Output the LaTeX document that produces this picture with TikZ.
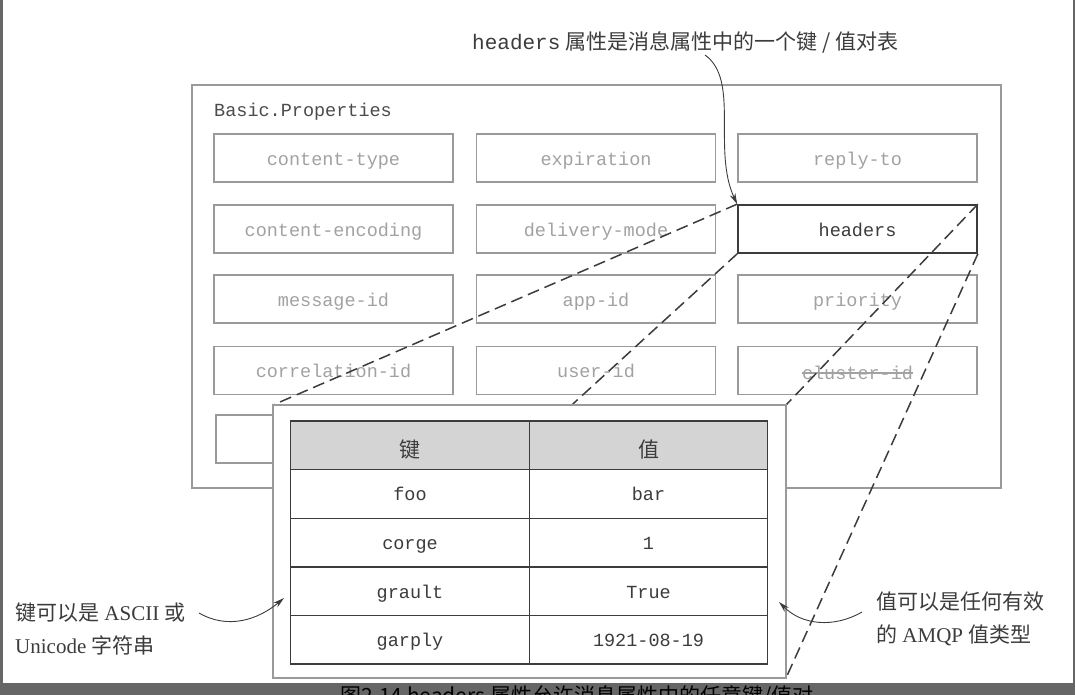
\documentclass[tikz,border=0pt]{standalone}
\usepackage{fontspec}
\setmainfont{Liberation Serif}
\setmonofont{Liberation Mono}
\newfontfamily\cjk{Noto Sans CJK SC}
\usetikzlibrary{arrows.meta}
\definecolor{framegray}{HTML}{666666}
\definecolor{boxgray}{HTML}{9A9A9A}
\definecolor{propgray}{HTML}{A2A2A2}
\definecolor{inkgray}{HTML}{3C3C3C}
\definecolor{headgray}{HTML}{D4D4D4}

\begin{document}
\begin{tikzpicture}[x=1pt,y=-1pt,
  prop/.style={draw=boxgray,line width=1.3pt,minimum width=239pt,minimum height=48pt,inner sep=0pt,text height=14pt,text depth=0pt,text=propgray,font=\ttfamily\fontsize{18.5}{20}\selectfont},
  cell/.style={draw=inkgray,line width=1.4pt,minimum width=238.5pt,minimum height=48.6pt,inner sep=0pt,text height=14pt,text depth=0pt,text=inkgray,font=\ttfamily\fontsize{18.5}{20}\selectfont},
  headcell/.style={cell,fill=headgray,text height=24pt,font=\cjk\fontsize{21}{22}\selectfont},
  note/.style={text=inkgray,font=\fontsize{21}{33}\selectfont,inner sep=0pt,align=left},
  callout/.style={draw=inkgray,line width=0.9pt,-{Stealth[length=11pt,width=6pt]}},
  zoomline/.style={draw=inkgray,line width=1.5pt,dash pattern=on 12pt off 6pt}]

\useasboundingbox (0,0) rectangle (1075,695);
\fill[white] (0,0) rectangle (1075,695);
\fill[framegray] (0,0) rectangle (3,695);
\fill[framegray] (1073,0) rectangle (1075,695);
\fill[framegray] (0,683) rectangle (1075,695);

\draw[boxgray,line width=1.5pt] (192,85) rectangle (1001,488);
\node[anchor=west,inner sep=0pt,text=black!70,font=\ttfamily\fontsize{18.5}{20}\selectfont] (basic) at (214,112) {Basic.Properties};

\node[prop] (ctype) at (333.5,158) {content-type};
\node[prop] (expiration) at (596,158) {expiration};
\node[prop] (replyto) at (857.5,158) {reply-to};
\node[prop] (cenc) at (333.5,229) {content-encoding};
\node[prop] (dmode) at (596,229) {delivery-mode};
\node[prop,draw=inkgray,line width=1.7pt,text=inkgray] (headers) at (857.5,229) {headers};
\node[prop] (msgid) at (333.5,299) {message-id};
\node[prop] (appid) at (596,299) {app-id};
\node[prop] (priority) at (857.5,299) {priority};
\node[prop] (corrid) at (333.5,370.5) {correlation-id};
\node[prop] (userid) at (596,370.5) {user-id};
\node[prop] (clusterid) at (857.5,370.5) {};
\node[inner sep=0pt,text=propgray,font=\ttfamily\fontsize{18.5}{20}\selectfont] (clusterlbl) at (857.5,373) {cluster-id};
\draw[propgray,line width=1.2pt] (clusterlbl.west) -- (clusterlbl.east);
\node[prop] (timestamp) at (335.5,439) {};

% zoomed headers table
\coordinate (znw) at (273,405);
\coordinate (zse) at (786,678);
\draw[zoomline] (headers.north west) -- (znw);
\draw[zoomline] (headers.north east) -- (znw -| zse);
\draw[zoomline] (headers.south west) -- (znw |- zse);
\draw[zoomline] (headers.south east) -- (zse);
\filldraw[fill=white,draw=boxgray,line width=1.3pt] (znw) rectangle (zse);

\node[headcell] (keyhead) at (410,445.3) {键};
\node[headcell] (valhead) at (648.5,445.3) {值};
\node[cell] (fookey) at (410,493.9) {foo};
\node[cell] (fooval) at (648.5,493.9) {bar};
\node[cell] (corgekey) at (410,542.5) {corge};
\node[cell] (corgeval) at (648.5,542.5) {1};
\node[cell] (graultkey) at (410,591.1) {grault};
\node[cell] (graultval) at (648.5,591.1) {True};
\node[cell] (garplykey) at (410,639.7) {garply};
\node[cell] (garplyval) at (648.5,639.7) {1921-08-19};

\node[note,anchor=west] (headnote) at (472,42) {{\ttfamily headers} {\cjk 属性是消息属性中的一个键 / 值对表}};
\node[note,anchor=west] (keynote) at (15,628.5) {{\cjk 键可以是} ASCII {\cjk 或}\\Unicode {\cjk 字符串}};
\node[note,anchor=west] (valnote) at (876,619) {{\cjk 值可以是任何有效}\\{\cjk 的} AMQP {\cjk 值类型}};

\coordinate (headfrom) at (705,55);
\coordinate (keyfrom) at (199,613);
\coordinate (keytip) at (284,598);
\coordinate (valfrom) at (862,612);
\coordinate (valtip) at (779,602);
\draw[callout] (headfrom) .. controls (740,80) and (712,150) .. (headers.north west);
\draw[callout] (keyfrom) to[out=-30,in=-140] (keytip);
\draw[callout] (valfrom) to[out=-150,in=-45] (valtip);

\node[anchor=north,inner sep=0pt,text=black,font=\cjk\fontsize{21}{21}\selectfont] (caption) at (577,685) {图2.14 headers 属性允许消息属性中的任意键/值对};
\end{tikzpicture}
\end{document}
